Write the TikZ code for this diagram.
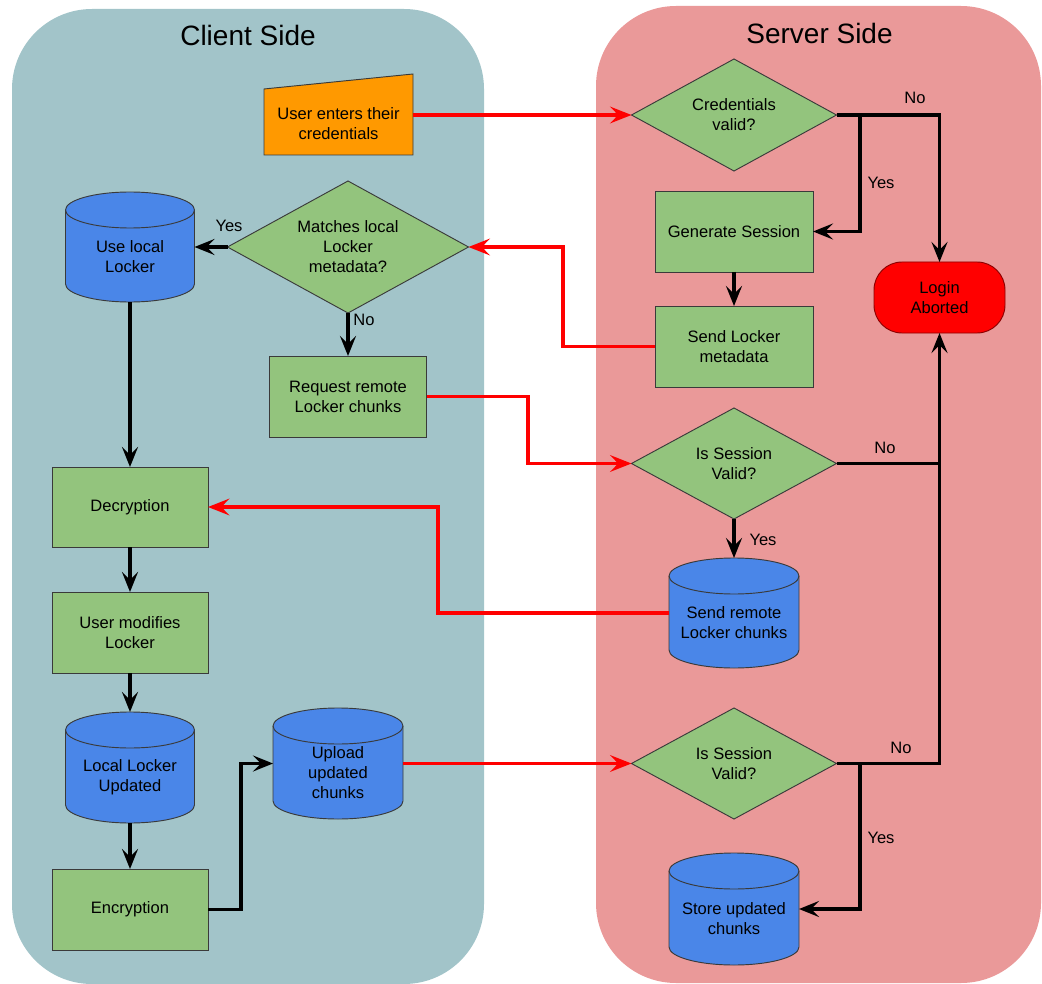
\documentclass[tikz,border=0pt]{standalone}
\usepackage{fontspec}
\setmainfont{Liberation Sans}
\usetikzlibrary{shapes.geometric,arrows.meta}

\definecolor{clientbg}{HTML}{A2C4C9}
\definecolor{serverbg}{HTML}{EA9999}
\definecolor{stepgreen}{HTML}{93C47D}
\definecolor{storeblue}{HTML}{4A86E8}
\definecolor{inputorange}{HTML}{FF9900}
\definecolor{abortred}{HTML}{FF0000}
\definecolor{edgegray}{HTML}{3A3A3A}

% vertical cylinder: left, right, top, bottom, radius of the end ellipses
\newcommand\drum[5]{%
  \pgfmathsetmacro\qL{#1}\pgfmathsetmacro\qR{#2}%
  \pgfmathsetmacro\qT{#3}\pgfmathsetmacro\qB{#4}\pgfmathsetmacro\qr{#5}%
  \pgfmathsetmacro\qC{(\qL+\qR)/2}\pgfmathsetmacro\qA{(\qR-\qL)/2*0.5523}%
  \pgfmathsetmacro\qK{\qr*0.5523}%
  \pgfmathsetmacro\qU{\qT+\qr}\pgfmathsetmacro\qV{\qB-\qr}%
  \pgfmathsetmacro\qW{\qT+2*\qr}%
  \path[drumbody] ({\qL},{\qU}) -- ({\qL},{\qV})
     .. controls ({\qL},{\qV+\qK}) and ({\qC-\qA},{\qB}) .. ({\qC},{\qB})
     .. controls ({\qC+\qA},{\qB}) and ({\qR},{\qV+\qK}) .. ({\qR},{\qV})
     -- ({\qR},{\qU})
     .. controls ({\qR},{\qU-\qK}) and ({\qC+\qA},{\qT}) .. ({\qC},{\qT})
     .. controls ({\qC-\qA},{\qT}) and ({\qL},{\qU-\qK}) .. ({\qL},{\qU}) -- cycle;
  \draw[drumedge] ({\qL},{\qU})
     .. controls ({\qL},{\qU+\qK}) and ({\qC-\qA},{\qW}) .. ({\qC},{\qW})
     .. controls ({\qC+\qA},{\qW}) and ({\qR},{\qU+\qK}) .. ({\qR},{\qU});
}

\tikzset{
  body/.style={font=\fontsize{12.4}{15}\selectfont, align=center, text=black},
  panel/.style={fill=#1, draw=none, rounded corners=60pt},
  title/.style={font=\fontsize{21}{25}\selectfont, text=black},
  stepbox/.style={body, rectangle, draw=edgegray, line width=0.7pt, fill=stepgreen,
    inner sep=0pt, outer sep=0pt},
  decision/.style={body, diamond, aspect=1.85, draw=edgegray, line width=0.7pt, fill=stepgreen,
    inner sep=0pt, outer sep=0pt},
  hold/.style={rectangle, inner sep=0pt, outer sep=0pt},
  drumbody/.style={fill=storeblue, draw=edgegray, line width=0.7pt},
  drumedge/.style={draw=edgegray, line width=0.7pt},
  terminal/.style={body, rectangle, rounded corners=21pt, draw=abortred!55!black,
    line width=0.7pt, fill=abortred, inner sep=0pt, outer sep=0pt},
  lab/.style={body},
  tip/.style={-{Stealth[length=15pt,width=12pt,inset=6pt]}},
  flow/.style={line width=2.8pt, draw=black, line join=miter},
  net/.style={line width=2.4pt, draw=abortred, line join=miter,
    -{Stealth[length=16pt,width=12.5pt,inset=6pt]}},
}

\begin{document}
\begin{tikzpicture}[x=0.75pt,y=-0.75pt]
  \useasboundingbox (0,0) rectangle (1042,984);

  % the two swim lanes
  \path[panel=clientbg] (12,9) rectangle (484,984);
  \path[panel=serverbg] (596,6) rectangle (1041,983);
  \node[title] (tclient) at (248,35) {Client Side};
  \node[title] (tserver) at (819.5,33) {Server Side};

  % manual input
  \path[fill=inputorange, draw=edgegray, line width=0.7pt]
    (264,89) -- (413,74) -- (413,155) -- (264,155) -- cycle;
  \node[hold, minimum width={149*0.75pt}, minimum height={81*0.75pt}] (inp) at (338.5,115) {};
  \node[body] (inpt) at (338.5,123.5) {User enters their\\credentials};

  % server side steps
  \node[decision, minimum width={205*0.75pt}, minimum height={112*0.75pt}] (cv) at (734,115) {Credentials\\valid?};
  \node[stepbox, minimum width={158*0.75pt}, minimum height={81*0.75pt}] (gen) at (734,231.5) {Generate Session};
  \node[stepbox, minimum width={158*0.75pt}, minimum height={81*0.75pt}] (meta) at (734,346.5) {Send Locker\\metadata};
  \node[terminal, minimum width={131*0.75pt}, minimum height={71*0.75pt}] (abort) at (939.5,297.5) {Login\\Aborted};
  \node[decision, minimum width={205*0.75pt}, minimum height={111*0.75pt}] (sva) at (734,463.5) {Is Session\\Valid?};
  \node[decision, minimum width={205*0.75pt}, minimum height={111*0.75pt}] (svb) at (734,763.5) {Is Session\\Valid?};

  % client side steps
  \node[decision, aspect=1.83, minimum width={241*0.75pt}, minimum height={132*0.75pt}] (match) at (348,247) {Matches local\\Locker\\metadata?};
  \node[stepbox, minimum width={157*0.75pt}, minimum height={81*0.75pt}] (req) at (348,396.5) {Request remote\\Locker chunks};
  \node[stepbox, minimum width={156*0.75pt}, minimum height={80*0.75pt}] (dec) at (130,507) {Decryption};
  \node[stepbox, minimum width={156*0.75pt}, minimum height={81*0.75pt}] (mod) at (130,632.5) {User modifies\\Locker};
  \node[stepbox, minimum width={156*0.75pt}, minimum height={81*0.75pt}] (enc) at (130,909.5) {Encryption};

  % storage cylinders
  \drum{65.5}{194.5}{192}{302}{18}
  \node[hold, minimum width={129*0.75pt}, minimum height={110*0.75pt}] (local) at (130,247) {};
  \node[body] (localt) at (130,257) {Use local\\Locker};

  \drum{65.5}{194.5}{712}{823}{18}
  \node[hold, minimum width={129*0.75pt}, minimum height={111*0.75pt}] (upd) at (130,767.5) {};
  \node[body] (updt) at (130,777) {Local Locker\\Updated};

  \drum{273}{403}{708}{819}{18}
  \node[hold, minimum width={130*0.75pt}, minimum height={111*0.75pt}] (up) at (338,763.5) {};
  \node[body] (upt) at (338,773) {Upload\\updated\\chunks};

  \drum{669}{799}{558}{668}{18}
  \node[hold, minimum width={130*0.75pt}, minimum height={110*0.75pt}] (rem) at (734,613) {};
  \node[body] (remt) at (734,623) {Send remote\\Locker chunks};

  \drum{669}{799}{853}{965}{18}
  \node[hold, minimum width={130*0.75pt}, minimum height={112*0.75pt}] (store) at (734,909) {};
  \node[body] (storet) at (734,919) {Store updated\\chunks};

  % bends of the connectors
  \coordinate (jcv) at (860,115);
  \coordinate (jsv) at (860,763.5);
  \coordinate (kmeta) at (563,300);
  \coordinate (kreq) at (528,430);
  \coordinate (krem) at (438,560);
  \coordinate (kenc) at (241,830);

  % client to server traffic
  \draw[net] (inp.east) -- (cv.west);
  \draw[net] (meta.west) -| (kmeta) |- (match.east);
  \draw[net] (req.east) -| (kreq) |- (sva.west);
  \draw[net] (rem.west) -| (krem) |- (dec.east);
  \draw[net] (up.east) -- (svb.west);

  % server logic
  \draw[flow, tip] (cv.east) -- (cv.east -| abort.north) -- (abort.north);
  \draw[flow, tip] (cv.east) -- (jcv) |- (gen.east);
  \draw[flow, tip] (gen.south) -- (meta.north);
  \draw[flow] (sva.east) -- (sva.east -| abort.south);
  \draw[flow, tip] (svb.east) -- (svb.east -| abort.south) -- (abort.south);
  \draw[flow, tip] (sva.south) -- (rem.north);
  \draw[flow, tip] (svb.east) -- (jsv) |- (store.east);

  % client logic
  \draw[flow, tip] (match.west) -- (local.east);
  \draw[flow, tip] (match.south) -- (req.north);
  \draw[flow, tip] (local.south) -- (dec.north);
  \draw[flow, tip] (dec.south) -- (mod.north);
  \draw[flow, tip] (mod.south) -- (upd.north);
  \draw[flow, tip] (upd.south) -- (enc.north);
  \draw[flow, tip] (enc.east) -| (kenc) |- (up.west);

  % branch labels
  \node[lab] (lno1) at (915,98) {No};
  \node[lab] (lyes1) at (881,183) {Yes};
  \node[lab] (lyes2) at (229,226) {Yes};
  \node[lab] (lno2) at (364,320) {No};
  \node[lab] (lno3) at (885,448) {No};
  \node[lab] (lyes3) at (763,540) {Yes};
  \node[lab] (lno4) at (901,748) {No};
  \node[lab] (lyes4) at (881,838) {Yes};
\end{tikzpicture}
\end{document}
